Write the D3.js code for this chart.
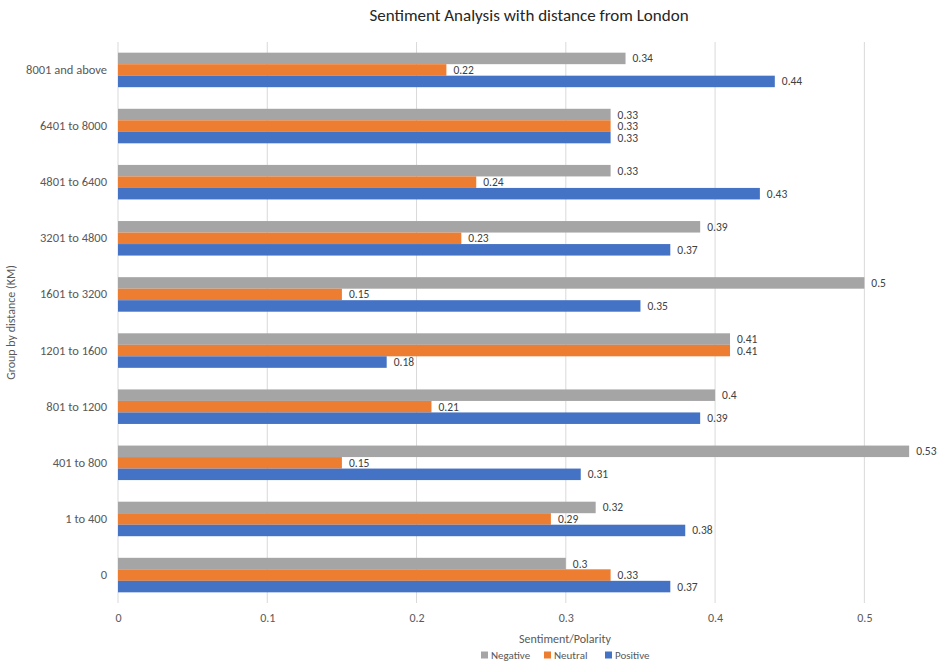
<!DOCTYPE html>
<html>
<head>
<meta charset="utf-8">
<script src="https://cdn.jsdelivr.net/npm/d3@7"></script>
<style>
  body { margin: 0; background: #fff; }
  text { font-family: Carlito, Calibri, Lato, "Open Sans", sans-serif; }
</style>
</head>
<body>
<div id="canvas"></div>
<script>
"use strict"

/* chart data */
let groups = ["8001 and above", "6401 to 8000", "4801 to 6400", "3201 to 4800",
              "1601 to 3200", "1201 to 1600", "801 to 1200", "401 to 800", "1 to 400", "0"];
let seriesNames = ["Negative", "Neutral", "Positive"];
let negative = [0.34, 0.33, 0.33, 0.39, 0.5, 0.41, 0.4, 0.53, 0.32, 0.3];
let neutral  = [0.22, 0.33, 0.24, 0.23, 0.15, 0.41, 0.21, 0.15, 0.29, 0.33];
let positive = [0.44, 0.33, 0.43, 0.37, 0.35, 0.18, 0.39, 0.31, 0.38, 0.37];
let xTicks = [0, 0.1, 0.2, 0.3, 0.4, 0.5];
let colors = ["#A5A5A5", "#ED7D31", "#4472C4"];

let W = 937, H = 664;
let plotLeft = 118, plotRight = 939, plotTop = 42, plotBottom = 603;

let drawing = d3.select("#canvas")
    .append("svg")
    .attr("width", W)
    .attr("height", H);

let x = d3.scaleLinear().domain([0, 0.55]).range([plotLeft, plotRight]);
let y = d3.scaleBand().domain(groups).range([plotTop, plotBottom]).paddingInner(0.385).paddingOuter(0.19);
let ySub = d3.scaleBand().domain(seriesNames).range([0, y.bandwidth()]);

/* gridlines */
drawing.append("g")
    .selectAll("line")
    .data(xTicks)
    .join("line")
    .attr("x1", d => x(d)).attr("x2", d => x(d))
    .attr("y1", plotTop).attr("y2", plotBottom)
    .attr("stroke", "#d9d9d9")
    .attr("stroke-width", 1);

/* x tick labels */
let xAxis = drawing.append("g")
    .attr("transform", `translate(0,${plotBottom})`)
    .call(d3.axisBottom(x).tickValues(xTicks).tickFormat(d => d3.format("")(d)).tickSize(0).tickPadding(10));
xAxis.select(".domain").remove();
xAxis.selectAll("text").attr("fill", "#595959").attr("font-size", 12);

/* category labels */
let yAxis = drawing.append("g")
    .attr("transform", `translate(${plotLeft},0)`)
    .call(d3.axisLeft(y).tickSize(0).tickPadding(11));
yAxis.select(".domain").remove();
yAxis.selectAll("text").attr("fill", "#595959").attr("font-size", 12.5);

/* bars */
let rows = groups.map((g, i) => ({
    group: g,
    vals: [negative[i], neutral[i], positive[i]]
}));

let groupG = drawing.append("g")
    .selectAll("g")
    .data(rows)
    .join("g")
    .attr("transform", d => `translate(0,${y(d.group)})`);

let cells = groupG.selectAll("g")
    .data(d => d.vals.map((v, k) => ({ name: seriesNames[k], value: v, k: k })))
    .join("g");

cells.append("rect")
    .attr("x", x(0))
    .attr("y", d => ySub(d.name))
    .attr("width", d => x(d.value) - x(0))
    .attr("height", ySub.bandwidth())
    .attr("fill", d => colors[d.k]);

/* data labels */
cells.append("text")
    .attr("x", d => x(d.value) + 7)
    .attr("y", d => ySub(d.name) + ySub.bandwidth() / 2)
    .attr("dy", "0.35em")
    .attr("font-size", 11.5)
    .attr("fill", "#404040")
    .text(d => d3.format("")(d.value));

/* titles */
drawing.append("text")
    .attr("x", 529).attr("y", 21)
    .attr("text-anchor", "middle")
    .attr("font-size", 17)
    .attr("fill", "#262626")
    .text("Sentiment Analysis with distance from London");

drawing.append("text")
    .attr("transform", `translate(15,${(plotTop + plotBottom) / 2}) rotate(-90)`)
    .attr("text-anchor", "middle")
    .attr("font-size", 12)
    .attr("fill", "#595959")
    .text("Group by distance (KM)");

drawing.append("text")
    .attr("x", 565).attr("y", 643)
    .attr("text-anchor", "middle")
    .attr("font-size", 12)
    .attr("fill", "#595959")
    .text("Sentiment/Polarity");

/* legend */
let legendX = [481, 544, 605];
let legend = drawing.append("g")
    .selectAll("g")
    .data(seriesNames)
    .join("g")
    .attr("transform", (d, i) => `translate(${legendX[i]},655)`);

legend.append("rect")
    .attr("x", 0).attr("y", -3.5)
    .attr("width", 7).attr("height", 7)
    .attr("fill", (d, i) => colors[i]);

legend.append("text")
    .attr("x", 10).attr("y", 0)
    .attr("dy", "0.35em")
    .attr("font-size", 11)
    .attr("fill", "#595959")
    .text(d => d);
</script>
</body>
</html>
